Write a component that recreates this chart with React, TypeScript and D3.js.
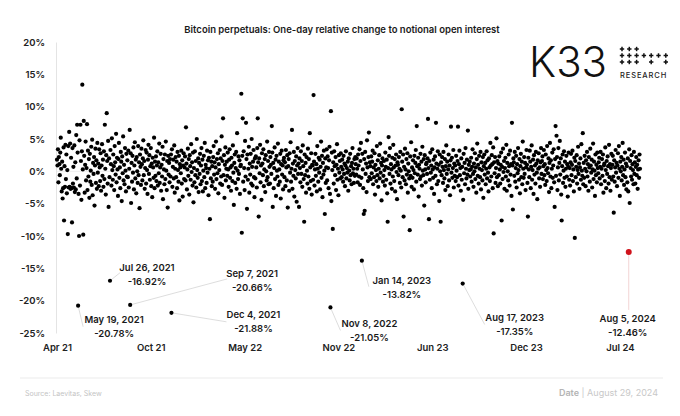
import React, { useEffect, useRef } from 'react';
import * as d3 from 'd3';

// one-day relative change to notional OI (%), one value per day from 4 Apr 2021, one row per month
const startDate = Date.UTC(2021, 3, 4);

const values2021 = [
  1.8, 0.9, 3.4, -1.7, 2.2, 1.1, -0.6, 2.9, 5.2, 0.4, -3.1, 1.5, -4.2, -2.6, 3.7, -7.6, 0.8, -2.4, 4.1, -1.2, 2.6, -3.4, 0.2, -9.7, 3.9, -2.5, 6.1,
  -2.4, 4.3, -2.7, 2.1, -2.6, -7.9, 3.6, -1.9, 0.7, -2.5, 4.0, -3.2, 1.4, -2.8, 5.6, -1.1, 7.2, 2.9, -20.78, -3.5, -10.0, 4.8, -2.2, 7.2, 1.6, -4.4, 3.1, 13.4, 0.3, -9.8, 7.8,
  2.4, -3.3, 1.0, 4.6, -1.4, 0.5, 7.3, -2.9, 3.2, -0.8, 1.9, -4.1, 2.7, -1.6, 0.1, 3.8, -2.1, 4.9, -3.7, 1.3, -0.4, 2.2, -5.3, 0.9, 3.5, -1.8, 1.7, -2.7, 4.4, -0.2,
  1.2, -2.3, 3.4, 0.6, -1.5, 2.8, -3.0, 0.9, 4.2, -0.7, 1.8, -2.4, 3.1, -1.2, 7.2, 0.4, -3.6, 2.5, 9.0, 1.6, -1.9, 4.7, -5.5, 2.0, -0.9, -16.92, 3.3, 1.1, -2.2, 5.1, 0.2,
  -1.3, 2.6, 0.8, -2.9, 3.9, 1.4, -0.5, 5.8, -1.7, 2.1, 0.3, -3.8, 1.9, 4.4, -1.0, 0.6, -2.6, 3.0, 1.5, -4.6, 2.3, -0.3, 5.4, -1.4, 1.0, -2.0, 3.6, 0.1, -3.1, 2.7, -0.8,
  1.7, -0.9, 3.2, -2.5, 0.4, 6.4, -20.66, 2.8, -4.9, 1.3, -1.6, 2.4, -0.2, 3.7, -2.8, 0.9, 4.5, -1.1, 1.8, -3.4, 2.2, 0.0, -1.8, 3.9, -0.6, 1.4, -5.7, 2.6, 0.7, -2.1,
  3.5, 1.1, -1.4, 2.0, 4.8, -0.6, 1.6, -2.7, 0.5, 3.3, -1.9, 2.9, 0.2, -3.5, 1.8, 4.1, -0.4, 2.5, -1.3, 0.8, 3.6, -2.3, 1.2, -4.0, 2.1, 0.6, -1.0, 5.2, -2.6, 1.5, -0.7,
  2.3, -1.5, 0.9, 3.1, -2.2, 1.4, -0.3, 4.3, -1.8, 0.6, 2.7, -3.0, 1.0, -0.8, 3.8, -4.3, 1.9, 0.3, -2.0, 2.6, -1.2, 4.6, 0.1, -2.9, 1.6, -5.6, 2.4, -0.5, 1.3, -1.7,
  1.9, -0.8, 2.6, -21.88, 3.4, -2.4, 0.7, 1.8, -1.1, 4.0, -3.3, 0.4, 2.2, -0.9, 1.5, -2.6, 3.0, 0.2, -1.6, 2.4, -4.5, 1.1, 0.6, -0.3, 3.2, -1.9, 1.7, -3.9, 0.9, 2.8, -1.2,
];

const values2022 = [
  0.6, 2.3, -1.4, 6.8, 1.2, -2.8, 0.3, 3.5, -0.7, 1.9, -3.6, 2.5, 0.8, -1.3, 4.2, -0.1, 1.4, -2.2, 2.9, -4.8, 0.5, -1.7, 3.1, -0.6, 1.6, -2.5, 5.0, 0.2, -1.0, 2.0, -3.2,
  1.3, -0.4, 2.7, -2.0, 0.9, 3.6, -1.5, 1.8, -3.1, 0.1, 2.4, -0.9, 4.4, -2.6, 1.0, 0.5, -1.8, 3.2, -0.2, 1.7, -3.7, 2.1, 0.4, -7.4, 3.0, -1.1, 1.5, -2.3,
  0.8, -1.6, 2.2, 3.9, -0.5, 1.4, -2.7, 0.6, 4.6, -1.2, 1.9, -0.3, 2.8, -3.4, 1.1, 0.2, 3.3, -1.9, 2.0, -0.8, 5.4, -2.1, 1.6, 8.2, -0.6, 2.5, -4.1, 1.0, 3.7, -1.4, 0.4,
  1.5, -0.7, 2.9, 0.3, -2.4, 1.8, 3.4, -1.0, 0.6, -3.0, 2.1, 0.9, -1.5, 4.0, -0.2, -5.2, 1.3, 2.6, -1.8, 0.5, 3.0, -2.7, 5.9, 0.1, -1.2, 2.3, -0.4, 1.7, -3.5, 0.8,
  1.0, 12.0, -9.5, 2.4, 8.2, -1.6, 3.1, 0.5, -2.9, 4.7, -0.8, 7.5, 1.9, -5.8, 2.6, -1.3, 0.4, 3.8, -3.3, 1.2, -0.5, 2.7, -1.9, 5.0, 0.7, -2.2, 1.5, 3.3, -0.9, -4.0, 2.0,
  -1.1, 2.3, 0.6, -2.5, 3.6, 8.2, 1.4, -7.0, 2.0, -0.3, 4.1, -1.7, 0.9, -4.4, 2.8, 1.2, -0.6, 3.4, -2.3, 0.3, 1.9, -3.2, 2.5, 0.0, -1.4, 4.6, -0.9, 1.6, -2.0, 3.0,
  0.7, -1.9, 2.2, 1.0, -0.4, 7.0, 2.9, -5.5, 1.3, -2.6, 0.5, 3.7, -1.2, 1.8, -3.8, 2.4, 0.1, -0.8, 4.3, -2.1, 1.5, 0.3, -1.6, 2.7, -4.2, 1.1, 3.2, -0.5, 0.9, -2.8, 1.7,
  2.1, -0.9, 1.4, -2.3, 3.3, 0.6, -1.4, 2.5, -5.6, 0.8, 1.9, -3.0, 2.8, -0.2, 4.5, -1.6, 0.4, 6.4, -2.7, 1.2, -0.7, 3.0, -3.9, 1.6, 0.2, -1.1, 2.3, -4.7, 0.9, 3.6, -0.4,
  1.2, -5.5, 2.0, 0.5, -1.7, 3.1, -0.4, 1.6, -2.4, 4.0, 0.8, -1.2, -7.8, 2.6, -0.6, 1.3, -3.3, 2.2, 0.1, -1.9, 3.5, -0.8, 1.9, -2.7, 5.9, 0.6, -1.5, 2.8, -3.6, 1.0,
  0.9, -1.3, 11.8, 1.5, -2.2, 0.3, 2.7, -0.7, 1.1, -3.1, 3.9, 0.4, -1.6, 2.1, -0.2, 1.8, -2.8, 0.7, 4.6, -1.0, 2.4, -4.0, 1.3, -0.5, 3.2, 0.1, -6.6, 2.0, -1.8, 0.6, 3.4,
  -1.4, 2.3, 0.5, -2.6, 1.7, 3.8, -3.5, -21.05, 9.3, -4.6, 2.9, 0.2, -8.9, 1.4, -1.9, 3.1, 0.8, -0.6, 2.2, -2.9, 1.0, 4.2, -1.3, 0.4, -3.7, 2.5, -0.2, 1.6, -1.1, 2.8,
  0.7, -0.9, 1.8, 0.3, -1.6, 2.4, -0.4, 1.2, -2.3, 0.9, 3.1, -1.1, 0.5, -0.2, 1.5, -3.0, 2.0, 0.1, -1.4, 2.7, -0.6, 0.8, -2.0, 1.3, 3.6, -0.3, 0.4, -1.8, 1.9, -0.7, 2.2,
];

const values2023 = [
  1.1, -0.5, 2.0, 0.4, -1.7, 2.6, 0.9, -0.8, 3.4, -2.1, 1.6, 4.4, -1.0, -13.82, 2.7, 0.3, -2.6, -6.6, 1.9, -6.1, 3.0, -0.4, 1.2, -3.2, 4.8, 0.6, -1.5, 2.2, 6.0, -0.9, 1.4,
  0.8, -1.2, 2.3, -0.3, 1.5, 3.2, -2.0, 0.6, -0.9, 2.8, -3.6, 1.0, 0.2, -1.5, 3.9, -0.6, 1.7, -2.4, 0.4, 2.5, -1.1, 4.3, -0.2, 1.3, -4.5, 0.9, 2.0, -1.6,
  -0.7, 1.6, 0.2, -2.2, 2.9, 0.7, -1.3, 1.8, -3.4, -7.8, 0.5, 5.3, 2.4, -0.4, 3.6, -1.9, 1.1, 0.3, -2.7, 2.1, -0.8, 4.1, 0.6, -1.5, 1.9, -3.1, 0.9, 2.6, -0.1, -4.3, 1.4,
  1.0, -0.6, 2.2, 0.4, -1.8, 3.0, 0.1, -2.5, 9.6, 1.5, -0.9, 2.6, -7.0, 0.7, -1.4, 3.5, 0.3, -2.0, 1.9, -0.5, 2.8, -3.3, 1.2, 0.0, -1.1, -9.1, 2.3, -0.7, 4.5, -2.4,
  0.6, -1.0, 1.7, 0.2, -2.8, 2.4, -0.3, 1.3, 3.3, -1.6, 7.0, 0.8, -0.5, 2.1, -3.9, 1.0, 0.4, -1.2, 2.7, -0.8, 1.5, -2.2, 3.8, 0.1, -0.6, 1.9, -5.3, 2.5, 0.3, -1.7, 1.1,
  1.3, -0.4, 2.0, 8.1, 0.5, -7.4, 1.6, -1.3, 2.9, -0.2, 0.9, -2.6, 3.4, 0.3, -1.0, 1.8, -3.5, 0.6, 2.3, -0.7, 7.5, 1.2, -2.0, 0.4, 3.1, -1.5, 1.0, -4.6, 2.6, 0.0,
  -7.8, 1.4, -0.6, 2.2, 0.7, -1.8, 3.0, 0.2, -1.1, 1.9, -2.9, 0.8, 4.0, -0.4, 1.5, -2.3, 0.3, 2.6, -1.4, 0.9, -3.7, 1.7, 6.9, -0.2, 2.1, -1.0, 0.5, 3.3, -2.5, 1.2, -0.7,
  0.9, -1.5, 2.4, 0.1, -0.9, 1.6, 6.9, -2.2, 1.1, 3.2, -0.6, 0.5, -3.0, 2.0, -1.3, 0.7, -17.35, -4.4, 2.7, -0.3, 1.3, -2.0, 3.6, 0.4, -1.1, 1.8, -0.5, 6.3, -2.7, 1.0, 0.2,
  1.5, -0.8, 0.3, 2.1, -1.6, 0.7, 3.4, -0.4, -2.4, 1.2, 0.0, 2.8, -1.2, 0.6, -3.3, 1.9, 4.3, -0.7, 1.0, -1.9, 2.4, 0.4, -0.9, 3.0, -2.8, 1.4, 0.2, -1.4, 2.2, -4.1,
  0.8, 2.6, -0.5, 1.3, -2.0, 0.4, 3.1, -1.1, 1.7, -0.2, -3.1, 2.0, 0.6, -1.5, 4.4, 0.9, -0.8, 2.5, 1.1, -2.6, 3.7, -9.6, 1.4, -0.3, 2.2, -1.8, 0.5, 5.1, -0.9, 1.6, -2.3,
  1.2, -0.6, 2.3, 0.3, -1.9, 1.0, 2.9, -7.6, 0.7, -1.2, 3.5, -0.1, 1.6, -2.7, 0.5, 2.1, -0.8, 4.1, -3.0, 1.3, 0.0, -1.4, 2.6, 0.8, -2.2, 3.2, -0.5, 1.1, -3.8, 7.5,
  0.9, -5.9, 2.0, 1.4, -0.7, 3.0, -1.6, 0.5, 2.4, -2.5, 1.1, -0.3, 3.6, 0.2, -1.3, 1.9, -3.4, 0.8, 2.7, -0.9, 1.5, -2.0, 4.6, 0.4, -1.0, 2.2, -0.4, 1.3, -2.9, 0.6, 3.3,
];

const values2024 = [
  1.0, -1.8, -7.0, 2.1, 0.3, -0.9, 3.2, 1.5, -2.6, 0.7, 4.0, -1.3, 0.2, 1.8, -3.5, 2.5, -0.5, 0.9, -1.9, 3.0, 1.2, -0.2, -4.3, 1.7, 0.4, 2.8, -1.1, 0.6, -2.4, 1.4, 3.6,
  -0.4, 1.6, 2.3, -1.2, 0.8, 3.3, -0.6, 1.1, -2.1, 2.6, 0.2, -1.5, 3.9, 0.5, -0.3, 2.0, -3.2, 1.3, 4.4, -0.8, 1.7, -2.6, 0.4, 2.9, -1.0, 0.9, 3.4, -1.7, -5.5,
  1.9, 7.0, -0.7, 5.5, 2.2, -2.9, 0.6, 3.6, -1.4, 1.3, 4.7, -0.5, 2.0, -3.6, -7.6, 0.8, 2.6, -1.8, 0.1, 3.1, -1.0, 1.5, -2.4, 0.4, 2.4, -0.8, 1.1, -3.9, 0.7, 2.9, -1.3,
  0.5, -2.2, 1.4, 2.7, -0.6, 1.0, 3.2, -1.5, 0.3, -3.1, 2.1, -10.3, 1.6, -0.9, 0.7, 2.5, -1.9, 0.2, 3.8, -0.4, 1.2, -2.7, 0.6, 2.0, -1.3, 4.2, 0.1, -0.7, 5.9, -2.0,
  1.3, -1.0, 2.4, 0.4, -2.3, 1.7, 0.0, 3.0, -0.8, 1.1, -3.0, 2.2, 0.6, -1.6, 3.5, 0.9, -0.2, 1.8, -2.5, 0.3, 4.3, -1.2, 1.5, 0.1, -3.8, 2.6, -0.6, 1.0, -1.7, 2.9, 0.5,
  -0.3, 1.4, 2.1, -1.1, 0.7, 3.0, -2.0, 0.4, 1.9, -0.7, 2.6, -3.3, 0.9, 1.2, -1.5, 3.7, 0.2, -2.6, 1.6, -0.4, 2.3, 0.8, -1.9, 4.1, -0.9, 1.1, -3.0, 0.5, 2.7, -1.3,
  1.0, 2.4, -0.8, -6.4, 1.7, -1.6, 0.6, 3.3, -0.2, 1.3, -2.3, 0.9, 2.8, -1.0, 3.9, 0.4, -3.8, 1.5, 0.0, 2.2, -1.4, 0.7, 4.4, -0.6, 1.8, -2.1, 0.3, 2.9, -0.9, 1.2, -2.8,
  0.8, -1.7, 2.0, -3.1, -12.46, 3.4, -4.9, 1.6, 0.5, -0.8, 2.5, -1.3, 1.1, 0.2, -2.0, 3.0, -0.4, 1.4, -1.9, 0.7, 2.2, -0.6, 1.0, -2.7, 0.3, 1.7, -1.0, 2.6, 0.4,
];

const yTicks = [20, 15, 10, 5, 0, -5, -10, -15, -20, -25];
const xTickEveryDays = 200;

// annotated days
const noteDates = ['2021-05-19', '2021-07-26', '2021-09-07', '2021-12-04', '2022-11-08', '2023-01-14', '2023-08-17', '2024-08-05'];
const noteValues = [-20.78, -16.92, -20.66, -21.88, -21.05, -13.82, -17.35, -12.46];
const highlightDate = '2024-08-05';

// label placement relative to the dot (px): [labelDx, labelDy, leaderDx, leaderDy]
const notePlacement = [
  [36, 14, 5, 21],
  [37, -13, 10, -8],
  [122, -31, 97, -26],
  [82, 2, 55, 9],
  [39, 16, 10, 23],
  [40, 20, 7, 26],
  [52, 34, 22, 41],
  [-1, 67, 0, 58],
];

const FONT = 'Inter, "Noto Sans", sans-serif';

const App: React.FC = () => {
  const width = 680;
  const height = 416;
  const svgRef = useRef<SVGSVGElement>(null);

  useEffect(() => {
    document.body.style.margin = '0';
    if (!svgRef.current) return;
    const svg = d3.select(svgRef.current);
    svg.selectAll('*').remove();

    const allValues = [...values2021, ...values2022, ...values2023, ...values2024];
    const start = new Date(startDate);
    const series = allValues.map((v, i) => ({ date: d3.utcDay.offset(start, i), value: v }));
    const end = series[series.length - 1].date;

    const x = d3.scaleUtc().domain([start, end]).range([57, 640]);
    const y = d3.scaleLinear().domain([-25, 20]).range([333, 42]);

    // title
    svg.append('text')
      .attr('x', 342)
      .attr('y', 30)
      .attr('text-anchor', 'middle')
      .attr('dominant-baseline', 'middle')
      .attr('font-family', FONT)
      .attr('font-size', 9.5)
      .attr('font-weight', 600)
      .attr('fill', '#1a1a1a')
      .text('Bitcoin perpetuals: One-day relative change to notional open interest');

    // logo
    svg.append('text')
      .attr('x', 529)
      .attr('y', 77)
      .attr('font-family', FONT)
      .attr('font-size', 42)
      .attr('font-weight', 300)
      .attr('fill', '#111')
      .text('K33');

    const crossCells: [number, number][] = [];
    [0, 1, 2].forEach(c => [0, 1, 2].forEach(r => crossCells.push([c, r])));
    [3, 4, 5, 6].forEach(c => crossCells.push([c, 1]));
    [4, 6].forEach(c => crossCells.push([c, 2]));
    const logo = svg.append('g').attr('stroke', '#111').attr('stroke-width', 1.5);
    crossCells.forEach(([c, r]) => {
      const cx = 622 + c * 7.3;
      const cy = 49 + r * 6.5;
      logo.append('line').attr('x1', cx - 2.2).attr('x2', cx + 2.2).attr('y1', cy).attr('y2', cy);
      logo.append('line').attr('x1', cx).attr('x2', cx).attr('y1', cy - 2.2).attr('y2', cy + 2.2);
    });
    svg.append('text')
      .attr('x', 620)
      .attr('y', 78)
      .attr('font-family', FONT)
      .attr('font-size', 7.5)
      .attr('font-weight', 500)
      .attr('letter-spacing', 0.9)
      .attr('fill', '#222')
      .text('RESEARCH');

    // zero line
    svg.append('line')
      .attr('x1', 56)
      .attr('x2', 640)
      .attr('y1', y(0))
      .attr('y2', y(0))
      .attr('stroke', '#efefef');

    // y axis
    svg.append('g')
      .attr('transform', 'translate(56,0)')
      .call(d3.axisLeft(y).tickValues(yTicks).tickFormat(d => `${d}%`).tickSize(0).tickPadding(11))
      .call(g => g.select('.domain').attr('stroke', '#e4e4e4'))
      .call(g => g.selectAll('text')
        .attr('font-family', FONT)
        .attr('font-size', 9.5)
        .attr('font-weight', 600)
        .attr('fill', '#222'));

    // x axis
    const xTicks = d3.range(0, series.length, xTickEveryDays).map(d => d3.utcDay.offset(start, d));
    svg.append('g')
      .attr('transform', 'translate(0,333)')
      .call(d3.axisBottom(x).tickValues(xTicks).tickFormat(d => d3.utcFormat('%b %y')(d as Date)).tickSize(0).tickPadding(11))
      .call(g => g.select('.domain').remove())
      .call(g => g.selectAll('text')
        .attr('font-family', FONT)
        .attr('font-size', 9.5)
        .attr('font-weight', 600)
        .attr('fill', '#222'));

    // annotations: leaders first
    const parse = d3.utcParse('%Y-%m-%d');
    const fmtDate = d3.utcFormat('%b %-d, %Y');
    const notes = noteDates.map((d, i) => ({ date: parse(d) as Date, value: noteValues[i], place: notePlacement[i], hot: d === highlightDate }));

    notes.forEach(n => {
      const px = x(n.date);
      const py = y(n.value);
      svg.append('line')
        .attr('x1', px)
        .attr('y1', py)
        .attr('x2', px + n.place[2])
        .attr('y2', py + n.place[3])
        .attr('stroke', n.hot ? '#efc9c9' : '#d4d4d4')
        .attr('stroke-width', 0.8);
    });

    // dots
    svg.append('g')
      .selectAll('circle')
      .data(series)
      .join('circle')
      .attr('cx', d => x(d.date))
      .attr('cy', d => y(d.value))
      .attr('r', 2.1)
      .attr('fill', '#000');

    notes.filter(n => n.hot).forEach(n => {
      svg.append('circle')
        .attr('cx', x(n.date))
        .attr('cy', y(n.value))
        .attr('r', 3)
        .attr('fill', '#d0121b');
    });

    notes.forEach(n => {
      const lx = x(n.date) + n.place[0];
      const ly = y(n.value) + n.place[1];
      const t = svg.append('text')
        .attr('text-anchor', 'middle')
        .attr('font-family', FONT)
        .attr('font-size', 9.5)
        .attr('font-weight', 600)
        .attr('fill', '#1a1a1a');
      t.append('tspan').attr('x', lx).attr('y', ly).attr('dy', '0.35em').text(fmtDate(n.date));
      t.append('tspan').attr('x', lx).attr('y', ly + 14).attr('dy', '0.35em').text(`${n.value.toFixed(2)}%`);
    });

    // footer
    svg.append('line')
      .attr('x1', 20)
      .attr('x2', 663)
      .attr('y1', 378)
      .attr('y2', 378)
      .attr('stroke', '#ebebeb');

    svg.append('text')
      .attr('x', 25)
      .attr('y', 394)
      .attr('dominant-baseline', 'middle')
      .attr('font-family', FONT)
      .attr('font-size', 7)
      .attr('fill', '#c4c4c4')
      .text('Source: Laevitas, Skew');

    const dateText = svg.append('text')
      .attr('x', 658)
      .attr('y', 394)
      .attr('text-anchor', 'end')
      .attr('dominant-baseline', 'middle')
      .attr('font-family', FONT)
      .attr('font-size', 9);
    dateText.append('tspan').attr('font-weight', 600).attr('fill', '#b4b4b4').text('Date');
    dateText.append('tspan').attr('fill', '#c8c8c8').text(` | ${d3.utcFormat('%B %-d, %Y')(end)}`);
  }, [height, width]);

  return (
    <svg ref={svgRef} width={width} height={height} style={{ display: 'block', background: '#fff' }} />
  );
};

export default App;
